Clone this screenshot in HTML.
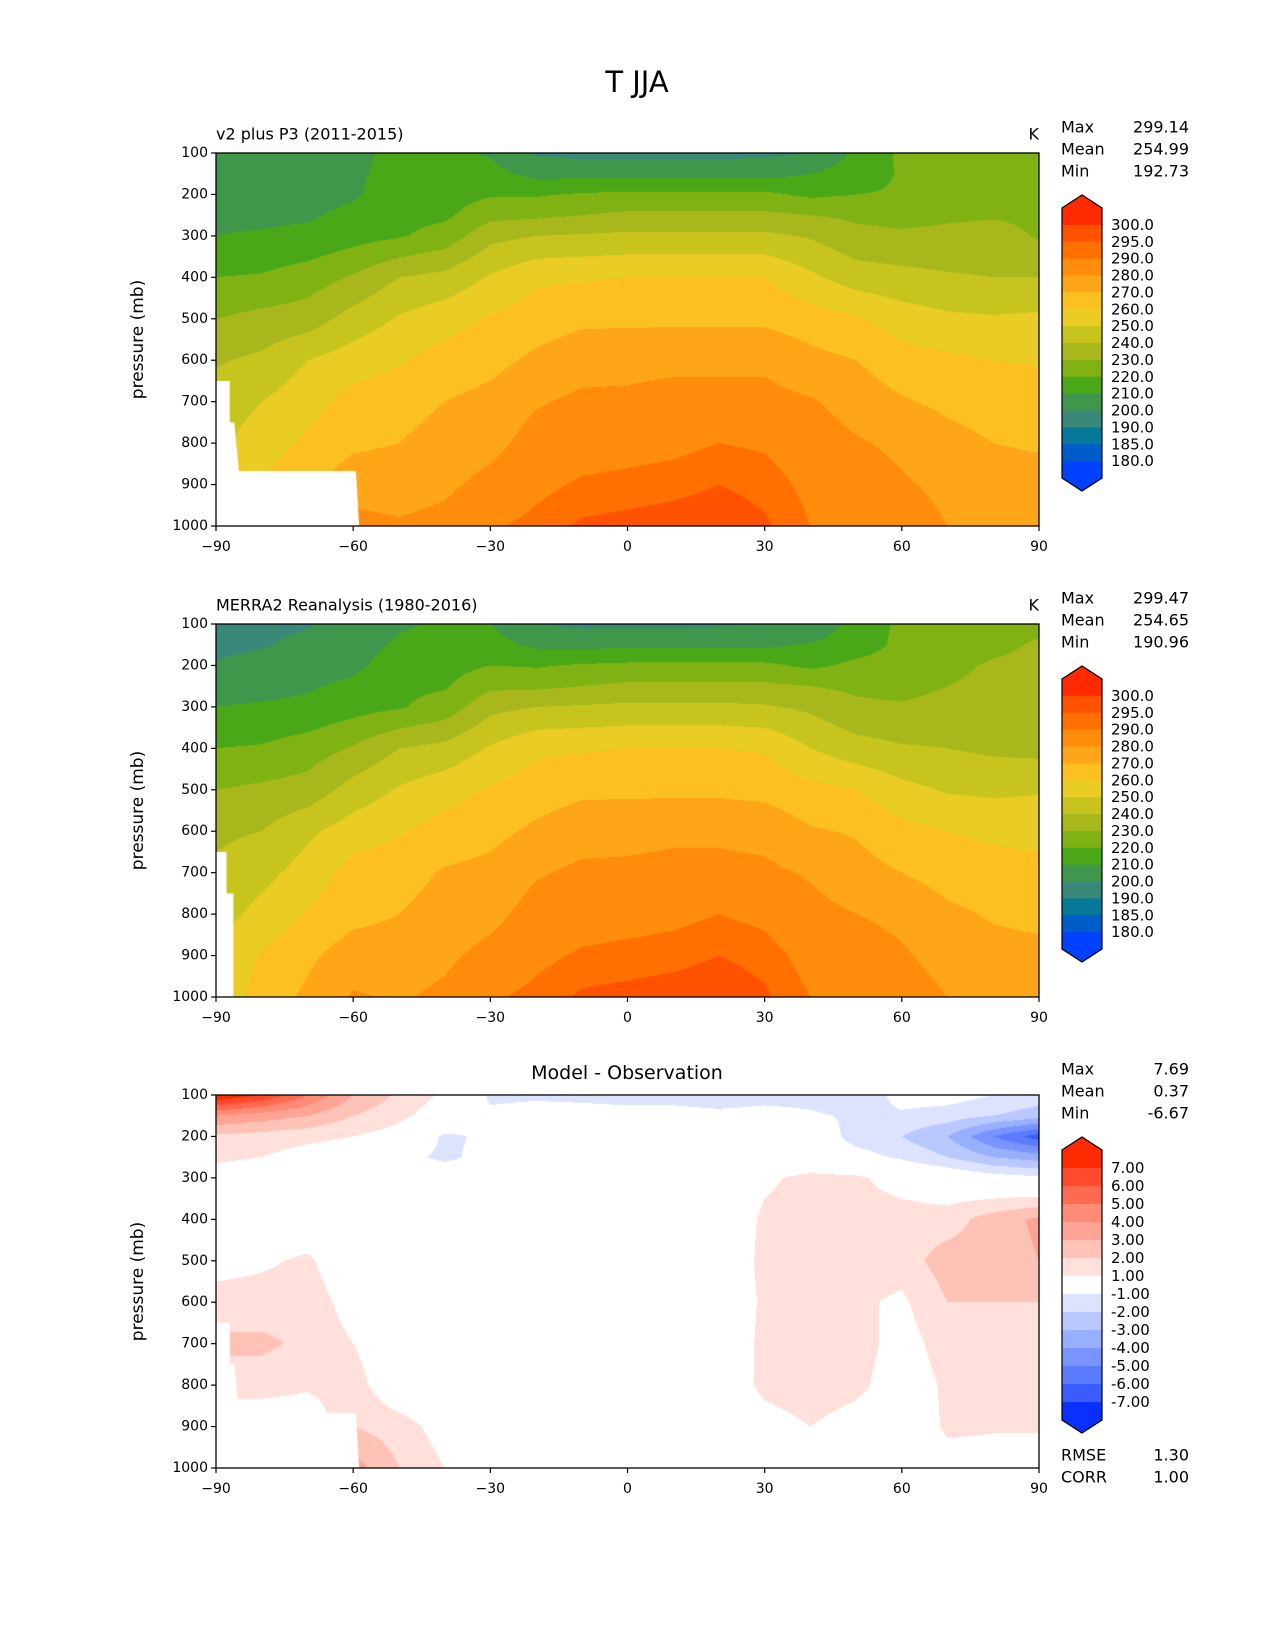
<!DOCTYPE html>
<html><head><meta charset="utf-8">
<style>
html,body{margin:0;padding:0;background:#fff;}
#wrap{position:relative;width:1275px;height:1650px;overflow:hidden;font-family:"DejaVu Sans","Liberation Sans",sans-serif;}
canvas{position:absolute;}
svg{position:absolute;left:0;top:0;}
</style></head>
<body>
<div id="wrap">
<canvas id="c1" width="823" height="373" style="left:216px;top:153px"></canvas>
<canvas id="c2" width="823" height="373" style="left:216px;top:624px"></canvas>
<canvas id="c3" width="823" height="373" style="left:216px;top:1095px"></canvas>
<svg id="ov" width="1275" height="1650"></svg>
</div>
<script>
const LATS=[-90,-80,-70,-60,-50,-40,-30,-20,-10,0,10,20,30,40,50,60,70,80,90];
const PRES=[100,150,200,250,300,400,500,600,700,800,900,1000];
const MODEL=[
[205,205,206,208,210,220,230,239,244,248,251,253],
[206,206,207,208,211,221,233,242,250,255,261,264],
[206,206,207,209,212,225,235,250,256,262,268,272],
[209,209,209,212,216,231,244,255,264,268,276,283],
[211,212,214,217,219,240,251,259,266,270,276,281],
[212,213,215,218,224,243,256,264,270,274,278,283],
[209,213,219,227,237,251,261,267,273,277,283,289],
[199,207,219,228,240,258,265,272,279,284,288,292],
[197,207,221,230,241,259,268,276,282,286,291,296],
[197,207,222,232,242,260,268,277,282,287,292,297],
[197,207,222,232,242,260,268,278,283,288,293,298],
[197,207,222,232,242,260,268,278,283,290,295,299],
[198,207,222,232,242,260,268,278,283,289,293,296],
[200,210,218,230,239,252,265,273,281,285,288,290],
[212,215,220,228,233,245,261,270,276,281,285,288],
[222,221,221,226,232,243,255,264,271,278,281,284],
[224,224,225,228,233,241,252,262,268,273,278,280],
[225,225,226,229,234,240,251,260,266,270,274,277],
[225,225,226,228,229,240,252,259,265,269,273,276]];
const OBS=[
[196,197,201,207,210,220,230,238,242,246,251,253],
[197,199,204,207,211,221,232,240,247,253,261,264],
[199,203,206,209,212,225,234,248,254,261,268,272],
[206,207,208,212,216,231,244,255,264,267,275,281],
[209,211,214,218,219,240,251,259,266,270,275,279],
[211,213,216,219,224,243,256,264,271,274,278,282],
[210,214,220,228,237,251,261,267,273,277,283,289],
[200,208,219,228,240,258,265,272,279,284,288,292],
[198,207,221,230,241,259,268,276,282,286,291,296],
[198,208,222,232,242,260,268,277,282,287,292,297],
[198,208,222,232,242,260,268,278,283,288,293,298],
[199,208,222,232,242,260,268,278,283,290,295,299],
[200,208,222,232,241,259,267,277,282,288,293,296],
[201,211,218,230,238,250,263,271,279,283,287,290],
[214,216,222,228,232,244,260,269,274,280,284,288],
[222,222,223,227,231,241,253,263,270,278,281,284],
[224,225,228,230,233,240,249,260,266,272,277,280],
[226,228,231,232,234,238,248,258,264,269,273,276],
[228,231,232,231,230,237,249,257,263,268,272,275]];
const DIFF=[
[8,4,1.8,1.2,0.5,0,0.5,1.5,2.2,1.5,0,0],
[7,3.5,1.6,1,0.3,0,0.8,1.5,2.2,1.5,0,0],
[5,3,1.3,0.5,0,0,1.2,1.6,1.8,1.2,0,0],
[3,2,1,0.2,0,0,0,0.5,1,1.5,2,3.5],
[1.8,1.3,0.5,-0.5,0,0,0,0,0,0,1.5,2],
[0.8,0.3,-1.2,-1.3,0,0,0,0,-0.8,0,0.5,1],
[-1.2,-0.8,-0.8,-0.5,0,0,0,0,0,0,0,0.2],
[-1.2,-0.5,0,0,0,0,0,0,0,0,0,0],
[-1.3,-0.5,0,0,0,0,0,0,0,0,0,0],
[-1.5,-0.5,0,0,0,0,0,0,0,0,0,0],
[-1.5,-0.5,0,0,0,0,0,0,0,0,0,0],
[-1.8,-0.6,0,0,0,0,0,0,0,0,0,0],
[-1.5,-0.5,0,0,0.8,1.2,1.3,1.2,1.3,1.3,0.5,0],
[-1.5,-0.8,0,0,1.3,1.5,1.5,1.5,1.8,1.6,1.0,0],
[-2,-1.2,-1.5,-0.5,1.2,1.4,1.4,1.2,1.5,1.3,0.5,0],
[-0.5,-1.2,-2,-1.2,0.5,1.5,1.5,0.8,0.5,0.3,0,-0.3],
[-0.5,-1.5,-3,-2,0,1.5,2.5,2,1.5,1.2,1.2,0.5],
[-1,-2,-5,-3,-0.5,2.5,2.5,2,1.5,1.3,1.1,0.5],
[-1.5,-2.5,-6.5,-3.5,-0.8,3.2,3,2,1.5,1.3,1.1,0.5]];
const T_LEVELS=[180,185,190,200,210,220,230,240,250,260,270,280,290,295,300];
const T_COLORS=['#0040ff','#005cc8','#067898','#3a8878','#40964a','#4aa818','#80b214','#a8b81c','#c8c41e','#e9cc24','#fcc020','#ffa518','#ff8c0a','#ff7000','#ff5200','#ff2a00'];
const D_LEVELS=[-7,-6,-5,-4,-3,-2,-1,1,2,3,4,5,6,7];
const D_COLORS=['#0a30ff','#3a5cff','#5a7aff','#7a94ff','#98aeff','#b9c8ff','#dde3ff','#ffffff','#ffe0da','#ffc2b6','#ffa394','#ff8a76','#ff6a50','#ff4a2c','#ff2a00'];
const D_LABELS=['-7.00','-6.00','-5.00','-4.00','-3.00','-2.00','-1.00','1.00','2.00','3.00','4.00','5.00','6.00','7.00'];
const MASK_MODEL=[[-90,650],[-87,650],[-87,750],[-86,750],[-85,867],[-59.4,867],[-58.7,1000],[-90,1000]];
const MASK_OBS=[[-90,650],[-87.7,650],[-87.7,750],[-86.2,750],[-86.2,1000],[-90,1000]];
const X_TICKS=[-90,-60,-30,0,30,60,90];
const Y_TICKS=[100,200,300,400,500,600,700,800,900,1000];
const STATS=[{max:'299.14',mean:'254.99',min:'192.73'},{max:'299.47',mean:'254.65',min:'190.96'},{max:'7.69',mean:'0.37',min:'-6.67'}];

const AX={x:216,w:823,h:373};
const TOPS=[153,624,1095];
function xs(lat){return (lat+90)/180*AX.w;}
function ys(p){return (p-100)/900*AX.h;}
function hex(c){return [parseInt(c.slice(1,3),16),parseInt(c.slice(3,5),16),parseInt(c.slice(5,7),16)];}
function sample(g,lat,p){
  let i=Math.min(17,Math.max(0,Math.floor((lat+90)/10)));
  let fx=(lat-LATS[i])/10;
  let j=0;while(j<PRES.length-2&&p>PRES[j+1])j++;
  let fy=(p-PRES[j])/(PRES[j+1]-PRES[j]);
  fx=Math.max(0,Math.min(1,fx));fy=Math.max(0,Math.min(1,fy));
  return g[i][j]*(1-fx)*(1-fy)+g[i+1][j]*fx*(1-fy)+g[i][j+1]*(1-fx)*fy+g[i+1][j+1]*fx*fy;
}
function bin(v,levels){let k=0;while(k<levels.length&&v>=levels[k])k++;return k;}
function drawField(id,grid,levels,colors,mask){
  const cv=document.getElementById(id),ctx=cv.getContext('2d');
  const img=ctx.createImageData(AX.w,AX.h);const rgb=colors.map(hex);
  for(let py=0;py<AX.h;py++){const p=100+(py+0.5)/AX.h*900;
    for(let px=0;px<AX.w;px++){const lat=-90+(px+0.5)/AX.w*180;
      const c=rgb[bin(sample(grid,lat,p),levels)];const o=(py*AX.w+px)*4;
      img.data[o]=c[0];img.data[o+1]=c[1];img.data[o+2]=c[2];img.data[o+3]=255;}}
  ctx.putImageData(img,0,0);
  ctx.fillStyle='#fff';ctx.beginPath();
  mask.forEach((m,k)=>{const X=xs(m[0]),Y=ys(m[1]);k?ctx.lineTo(X,Y):ctx.moveTo(X,Y);});
  ctx.closePath();ctx.fill();
}
drawField('c1',MODEL,T_LEVELS,T_COLORS,MASK_MODEL);
drawField('c2',OBS,T_LEVELS,T_COLORS,MASK_OBS);
drawField('c3',DIFF,D_LEVELS,D_COLORS,MASK_MODEL);

const NS='http://www.w3.org/2000/svg',ov=document.getElementById('ov');
function el(tag,attrs,parent){const e=document.createElementNS(NS,tag);for(const k in attrs)e.setAttribute(k,attrs[k]);(parent||ov).appendChild(e);return e;}
function txt(s,x,y,size,anchor,name,parent){const t=el('text',{x:x,y:y,'font-size':size,'text-anchor':anchor||'start','dominant-baseline':'central',fill:'#000','font-family':'DejaVu Sans, Liberation Sans, sans-serif'},parent);t.textContent=s;return t;}

txt('T JJA',637,82,29,'middle','figure-title');

const SUBT=['v2 plus P3 (2011-2015)','MERRA2 Reanalysis (1980-2016)'];
TOPS.forEach((top,pi)=>{
  const g=el('g',{});
  
  
  const fr=el('rect',{x:AX.x,y:top,width:AX.w,height:AX.h,fill:'none',stroke:'#000','stroke-width':1.3},g);
  
  Y_TICKS.forEach(p=>{const y=top+ys(p);
    const tk=el('line',{x1:AX.x-5,x2:AX.x,y1:y,y2:y,stroke:'#000','stroke-width':1.2},g);
    
    txt(String(p),AX.x-8,y,14,'end','y-tick-label',g);});
  X_TICKS.forEach(l=>{const x=AX.x+xs(l);
    const tk=el('line',{x1:x,x2:x,y1:top+AX.h,y2:top+AX.h+5,stroke:'#000','stroke-width':1.2},g);
    
    txt(l<0?'\u2212'+(-l):String(l),x,top+AX.h+21,14,'middle','x-tick-label',g);});
  const yl=txt('pressure (mb)',0,0,17,'middle','y-axis-title',g);
  yl.setAttribute('transform','translate(138,'+(top+AX.h/2)+') rotate(-90)');
  if(pi<2){txt(SUBT[pi],AX.x,top-19,16,'start','panel-subtitle',g);txt('K',AX.x+AX.w,top-19,16,'end','units-label',g);}
  else txt('Model - Observation',627,top-22,19,'middle','panel-title',g);
  const s=STATS[pi];
  txt('Max',1061,top-26,16,'start','stat-max-label',g);txt(s.max,1189,top-26,16,'end','stat-max-value',g);
  txt('Mean',1061,top-4,16,'start','stat-mean-label',g);txt(s.mean,1189,top-4,16,'end','stat-mean-value',g);
  txt('Min',1061,top+18,16,'start','stat-min-label',g);txt(s.min,1189,top+18,16,'end','stat-min-value',g);
  const cb=el('g',{},g);
  const cols=pi<2?T_COLORS:D_COLORS;const n=cols.length;
  const labels=pi<2?T_LEVELS.map(v=>v.toFixed(1)):D_LABELS;
  const cx0=1062,cx1=1102,rt=top+55,rb=top+325,bh=(rb-rt)/n;
  for(let k=0;k<n;k++){const r=el('rect',{x:cx0,y:rt+k*bh,width:cx1-cx0,height:bh+0.5,fill:cols[n-1-k]},cb);
    }
  el('polygon',{points:`${cx0},${rt} ${(cx0+cx1)/2},${top+42} ${cx1},${rt}`,fill:cols[n-1]},cb);
  el('polygon',{points:`${cx0},${rb} ${(cx0+cx1)/2},${top+338} ${cx1},${rb}`,fill:cols[0]},cb);
  el('polygon',{points:`${cx0},${rt} ${(cx0+cx1)/2},${top+42} ${cx1},${rt} ${cx1},${rb} ${(cx0+cx1)/2},${top+338} ${cx0},${rb}`,fill:'none',stroke:'#000','stroke-width':1.2},cb);
  for(let k=1;k<n;k++){txt(labels[labels.length-k],1111,rt+k*bh,15,'start','colorbar-label',cb);}
});
txt('RMSE',1061,1455,16,'start','rmse-label');txt('1.30',1189,1455,16,'end','rmse-value');
txt('CORR',1061,1477,16,'start','corr-label');txt('1.00',1189,1477,16,'end','corr-value');
</script>
</body></html>
